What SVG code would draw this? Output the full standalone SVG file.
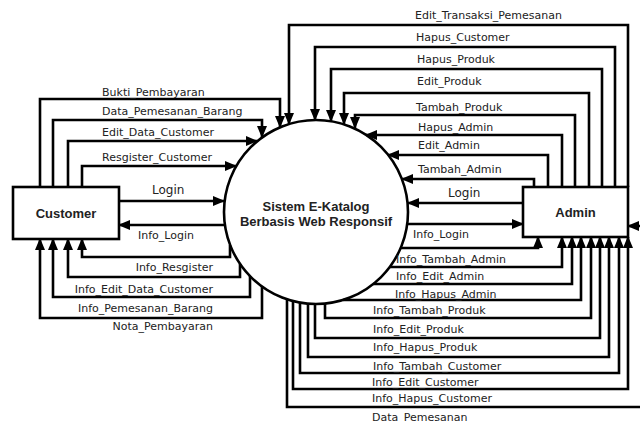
<svg xmlns="http://www.w3.org/2000/svg" width="640" height="423" viewBox="0 0 640 423">
<style>
.node{fill:#fff;stroke:#000;stroke-width:2.6}
.c{fill:none;stroke:#000;stroke-width:2.6;marker-end:url(#ah)}
.lbl{font-family:"DejaVu Sans",Verdana,sans-serif;font-size:11px;fill:#222}
.lg{font-size:12px}
.end{text-anchor:end}
.title{font-family:"Liberation Sans",Arial,sans-serif;font-size:13px;font-weight:bold;fill:#222;text-anchor:middle}
</style>
<defs>
<marker id="ah" markerUnits="userSpaceOnUse" markerWidth="12" markerHeight="10" refX="11" refY="5" orient="auto">
<path d="M0,0 L12,5 L0,10 z" fill="#000"/>
</marker>
</defs>
<rect width="640" height="423" fill="#fff"/>
<g id="customer">
<rect class="node" x="13" y="187" width="106" height="52"/>
<text class="title" x="66" y="218">Customer</text>
</g>
<g id="admin">
<rect class="node" x="523" y="187" width="105" height="50"/>
<text class="title" x="575.5" y="217">Admin</text>
</g>
<g id="process">
<circle class="node" cx="316" cy="212" r="92"/>
<text class="title" x="316" y="211">Sistem E-Katalog</text>
<text class="title" x="316" y="226">Berbasis Web Responsif</text>
</g>
<g id="connectors">
<path class="c" d="M40,187 V99 H280 V127"/>
<path class="c" d="M53,187 V120 H262 V137"/>
<path class="c" d="M68,187 V141 H257"/>
<path class="c" d="M82,187 V166 H236"/>
<path class="c" d="M119,201 H224"/>
<path class="c" d="M225,225 H119"/>
<path class="c" d="M230,245 V257 H82 V239"/>
<path class="c" d="M240,264 V277 H68 V239"/>
<path class="c" d="M250,276 V297 H53 V239"/>
<path class="c" d="M262,286 V318 H40 V239"/>
<path class="c" d="M628,187 V25 H289 V124"/>
<path class="c" d="M615,187 V47 H315 V120"/>
<path class="c" d="M602,187 V69 H331 V121"/>
<path class="c" d="M589,187 V93 H344 V124"/>
<path class="c" d="M575,187 V115 H355 V128"/>
<path class="c" d="M562,187 V135 H366"/>
<path class="c" d="M548,187 V155 H388"/>
<path class="c" d="M534,187 V179 H402"/>
<path class="c" d="M523,203 H408"/>
<path class="c" d="M407,224 H523"/>
<path class="c" d="M401,248 H538 V237"/>
<path class="c" d="M390,267 H562 V237"/>
<path class="c" d="M373,284 H572 V237"/>
<path class="c" d="M343,300 H581 V237"/>
<path class="c" d="M325,303 V318 H591 V237"/>
<path class="c" d="M315,304 V338 H600 V237"/>
<path class="c" d="M308,304 V357 H609 V237"/>
<path class="c" d="M300,302 V373 H619 V237"/>
<path class="c" d="M293,301 V389 H628 V237"/>
<path class="c" d="M287,299 V407 H650 V226 H628"/>
</g>
<g id="labels">
<text class="lbl" x="102" y="96">Bukti_Pembayaran</text>
<text class="lbl" x="102" y="115">Data_Pemesanan_Barang</text>
<text class="lbl" x="102" y="136">Edit_Data_Customer</text>
<text class="lbl" x="102" y="161">Resgister_Customer</text>
<text class="lbl lg" x="152" y="194">Login</text>
<text class="lbl" x="138" y="239">Info_Login</text>
<text class="lbl end" x="213" y="271">Info_Resgister</text>
<text class="lbl end" x="213" y="293">Info_Edit_Data_Customer</text>
<text class="lbl end" x="213" y="312">Info_Pemesanan_Barang</text>
<text class="lbl end" x="213" y="330">Nota_Pembayaran</text>
<text class="lbl" x="415" y="19">Edit_Transaksi_Pemesanan</text>
<text class="lbl" x="416" y="41">Hapus_Customer</text>
<text class="lbl" x="417" y="63">Hapus_Produk</text>
<text class="lbl" x="417" y="85">Edit_Produk</text>
<text class="lbl" x="416" y="111">Tambah_Produk</text>
<text class="lbl" x="418" y="131">Hapus_Admin</text>
<text class="lbl" x="418" y="149">Edit_Admin</text>
<text class="lbl" x="418" y="173">Tambah_Admin</text>
<text class="lbl lg" x="448" y="197">Login</text>
<text class="lbl" x="413" y="238">Info_Login</text>
<text class="lbl" x="396" y="263">Info_Tambah_Admin</text>
<text class="lbl" x="396" y="280">Info_Edit_Admin</text>
<text class="lbl" x="395" y="298">Info_Hapus_Admin</text>
<text class="lbl" x="373" y="314">Info_Tambah_Produk</text>
<text class="lbl" x="373" y="333">Info_Edit_Produk</text>
<text class="lbl" x="373" y="351">Info_Hapus_Produk</text>
<text class="lbl" x="373" y="370">Info_Tambah_Customer</text>
<text class="lbl" x="372" y="386">Info_Edit_Customer</text>
<text class="lbl" x="372" y="402">Info_Hapus_Customer</text>
<text class="lbl" x="372" y="421">Data_Pemesanan</text>
</g>
</svg>
